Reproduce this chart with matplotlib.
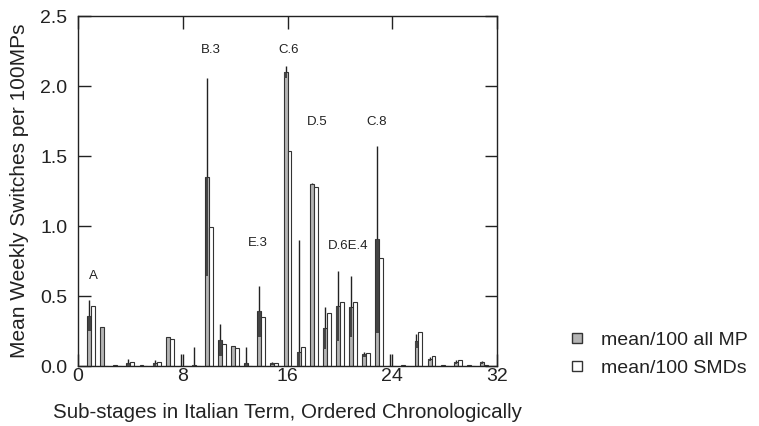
import numpy as np
import matplotlib
matplotlib.use("Agg")
import matplotlib.pyplot as plt
from matplotlib.lines import Line2D

plt.rcParams['font.family'] = ['Liberation Sans', 'DejaVu Sans']

stages = np.arange(1, 32)
mean_all = [0.36, 0.28, 0.005, 0.02, 0.005, 0.02, 0.205, 0.0, 0.005, 1.35, 0.185, 0.143, 0.02, 0.39, 0.02,
            2.10, 0.10, 1.30, 0.27, 0.43, 0.425, 0.083, 0.905, 0.0, 0.005, 0.18, 0.048, 0.005, 0.028, 0.005, 0.026]
sd_all = [0.11, 0.0, 0.0, 0.03, 0.0, 0.02, 0.0, 0.085, 0.13, 0.71, 0.115, 0.0, 0.115, 0.18, 0.01,
          0.04, 0.80, 0.005, 0.15, 0.25, 0.22, 0.02, 0.67, 0.085, 0.0, 0.05, 0.015, 0.0, 0.017, 0.0, 0.01]
mean_smd = [0.43, 0.0, 0.0, 0.03, 0.0, 0.03, 0.19, 0.0, 0.0, 0.99, 0.155, 0.126, 0.0, 0.35, 0.024,
            1.536, 0.134, 1.28, 0.376, 0.46, 0.46, 0.09, 0.774, 0.0, 0.0, 0.24, 0.069, 0.0, 0.04, 0.0, 0.01]

annot_text = ["A", "B.3", "C.6", "E.3", "D.5", "C.8", "D.6E.4"]
annot_x = [1.15, 10.15, 16.1, 13.7, 18.3, 22.8, 20.6]
annot_y = [0.64, 2.26, 2.26, 0.88, 1.74, 1.74, 0.86]

xticks = [0, 8, 16, 24, 32]
yticks = [0.0, 0.5, 1.0, 1.5, 2.0, 2.5]

fig = plt.figure(figsize=(7.59, 4.26), dpi=100)
ax = fig.add_axes([0.1028, 0.1408, 0.552, 0.8216])

edge = '#333333'
grey = '#b4b4b4'
dark = '#444444'
txt = '#222222'
w = 0.3
m = np.array(mean_all)
s = np.array(sd_all)
low = np.clip(m - s, 0, None)

ax.bar(stages - w / 2, m, width=w, color=grey, edgecolor=edge, linewidth=0.8, zorder=2)
ax.bar(stages - w / 2, m - low, bottom=low, width=w * 0.75, color=dark, linewidth=0, zorder=3)
ax.vlines(stages - w / 2, m, m + s, color=txt, linewidth=1.0, zorder=4)
ax.bar(stages + w / 2, mean_smd, width=w, color='white', edgecolor=edge, linewidth=0.8, zorder=2)

for t, x, y in zip(annot_text, annot_x, annot_y):
    ax.text(x, y, t, ha='center', va='center', fontsize=9.5, color=txt)

ax.set_xlim(0, 32)
ax.set_ylim(0, 2.5)
ax.set_xticks(xticks)
ax.set_yticks(yticks)
ax.set_yticklabels([f"{v:.1f}" for v in yticks])
ax.tick_params(direction='in', length=9, width=1, labelsize=14, top=True, right=True, colors=txt)
ax.tick_params(axis='x', pad=1.5)
ax.tick_params(axis='y', pad=7.5)
for sp in ax.spines.values():
    sp.set_color(txt)
    sp.set_linewidth(1.0)

ax.set_ylabel("Mean Weekly Switches per 100MPs", fontsize=15, color=txt, labelpad=8)
ax.set_xlabel("Sub-stages in Italian Term, Ordered Chronologically", fontsize=14.8, color=txt, labelpad=13)

handles = [Line2D([], [], marker='s', linestyle='none', markersize=6.5, markerfacecolor=grey, markeredgecolor=edge),
           Line2D([], [], marker='s', linestyle='none', markersize=6.5, markerfacecolor='white', markeredgecolor=edge)]
fig.legend(handles, ["mean/100 all MP", "mean/100 SMDs"], loc='upper left', bbox_to_anchor=(0.748, 0.223),
           frameon=False, fontsize=14, handletextpad=0.7, labelspacing=0.55, handlelength=1.0,
           borderpad=0, borderaxespad=0, labelcolor=txt)

fig.savefig("out.png", dpi=100)
